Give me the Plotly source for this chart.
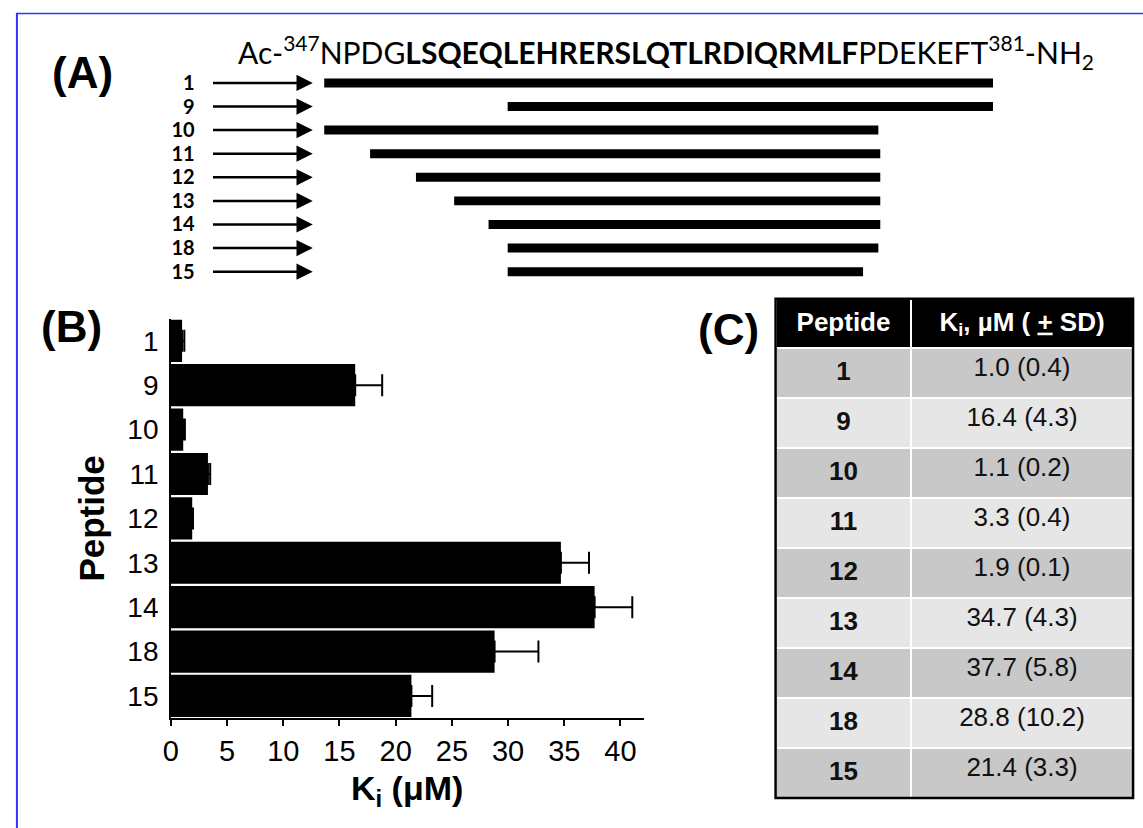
import plotly.graph_objects as go

# ---------------- data ----------------
peptides = ["1", "9", "10", "11", "12", "13", "14", "18", "15"]

# Panel A: sequence coverage (sequence position)
seq_start = [347.0, 356.6, 347.0, 349.4, 351.8, 353.8, 355.6, 356.6, 356.6]
seq_end = [382.0, 382.0, 376.0, 376.1, 376.1, 376.1, 376.1, 376.0, 375.2]

# Panel B / C: Ki values (uM), table SD, and plotted error bars
ki = [1.0, 16.4, 1.1, 3.3, 1.9, 34.7, 37.7, 28.8, 21.4]
sd = [0.4, 4.3, 0.2, 0.4, 0.1, 4.3, 5.8, 10.2, 3.3]
err_plot = [0.2, 2.4, 0.15, 0.2, 0.07, 2.5, 3.35, 3.9, 1.85]

x_ticks = [0, 5, 10, 15, 20, 25, 30, 35, 40]

W, H = 1143, 828
ARIAL = "Liberation Sans, Arial, sans-serif"
NARROW = "Liberation Sans Narrow, Arial Narrow, Liberation Sans, sans-serif"
CAL = "Lato, Calibri, sans-serif"

def px(x):
    return x / W

def py(y):
    return 1 - y / H

fig = go.Figure()

# ---------- Panel A ----------
fig.add_trace(go.Bar(
    orientation="h", y=peptides,
    x=[e - s for s, e in zip(seq_start, seq_end)], base=seq_start,
    width=0.38, marker=dict(color="black", line=dict(width=0)),
    xaxis="x2", yaxis="y2", showlegend=False, hoverinfo="skip",
))

ARROW_TAIL, ARROW_TIP = 341.1, 346.4
annotations = []
for i, p in enumerate(peptides):
    annotations.append(dict(
        xref="x2", yref="y2", axref="x2", ayref="y2",
        x=ARROW_TIP, y=i, ax=ARROW_TAIL, ay=i, text="",
        showarrow=True, arrowhead=2, arrowsize=1.3, arrowwidth=2.5,
        arrowcolor="black", standoff=0, startstandoff=0,
    ))

annotations.append(dict(
    xref="paper", yref="paper", x=px(663), y=py(51),
    xanchor="center", yanchor="middle", showarrow=False,
    text="Ac-<sup>347</sup>NPDG<b>LSQEQLEHRERSLQTLRDIQRMLF</b>PDEKEFT<sup>381</sup>-NH<sub>2</sub>",
    font=dict(family=CAL, size=30, color="black"),
))

# ---------- Panel B ----------
fig.add_trace(go.Bar(
    orientation="h", y=peptides, x=ki,
    marker=dict(color="black", line=dict(width=0)),
    error_x=dict(type="data", array=err_plot, arrayminus=[0] * len(ki),
                 symmetric=False, color="black", thickness=2, width=11),
    xaxis="x", yaxis="y", showlegend=False,
))

# ---------- Panel C ----------
row_fill = ["#c8c8c8" if i % 2 == 0 else "#e6e6e6" for i in range(len(peptides))]
fig.add_trace(go.Table(
    domain=dict(x=[px(773), px(1133)], y=[py(798), py(298)]),
    columnwidth=[137, 223],
    header=dict(
        values=["<b>Peptide</b>", "<b>K<sub>i</sub>, µM ( <u>+</u> SD)</b>"],
        fill_color="black", line=dict(color="white", width=2),
        font=dict(family=ARIAL, size=26, color="white"),
        align="center", height=47,
    ),
    cells=dict(
        values=[["<b>%s</b>" % p for p in peptides],
                ["%.1f (%.1f)" % (k, s) for k, s in zip(ki, sd)]],
        fill_color=[row_fill, row_fill], line=dict(color="white", width=2),
        font=dict(family=ARIAL, size=26, color="#111111"),
        align="center", height=50,
    ),
))

# panel labels
for lab, x, y in [("(A)", 75, 72), ("(B)", 64, 326), ("(C)", 726, 329)]:
    annotations.append(dict(
        xref="paper", yref="paper", x=px(x), y=py(y), xanchor="center",
        yanchor="middle", showarrow=False, text="<b>%s</b>" % lab,
        font=dict(family=ARIAL, size=44, color="black"),
    ))

shapes = [
    # table outer border
    dict(type="rect", xref="paper", yref="paper", x0=px(773), x1=px(1133),
         y0=py(798), y1=py(298), line=dict(color="black", width=2.5)),
    # blue frame edges
    dict(type="line", xref="paper", yref="paper", x0=px(9), x1=px(9),
         y0=py(12), y1=0, line=dict(color="#3333ff", width=2)),
    dict(type="line", xref="paper", yref="paper", x0=px(8), x1=1,
         y0=py(12.5), y1=py(12.5), line=dict(color="#3333ff", width=1.5)),
]

fig.update_layout(
    width=W, height=H, margin=dict(l=0, r=0, t=0, b=0),
    paper_bgcolor="white", plot_bgcolor="white",
    bargap=0.05, showlegend=False,
    annotations=annotations, shapes=shapes,
    xaxis=dict(
        domain=[px(164), px(640)], range=[0, 42.05], anchor="y",
        showline=True, linecolor="black", linewidth=2, mirror=False,
        ticks="outside", ticklen=6, tickwidth=2, tickcolor="black",
        tickvals=x_ticks, showgrid=False, zeroline=False,
        tickfont=dict(family=NARROW, size=29, color="black"),
        title=dict(text="<b>K<sub>i</sub> (μM)</b>", standoff=10,
                   font=dict(family=ARIAL, size=34, color="black")),
    ),
    yaxis=dict(
        domain=[py(718), py(318)], type="category", anchor="x",
        categoryorder="array", categoryarray=peptides, range=[8.5, -0.5],
        showline=True, linecolor="black", linewidth=1.5, ticks="",
        showgrid=False, zeroline=False,
        tickfont=dict(family=NARROW, size=28, color="black"),
        ticklabelstandoff=5,
        title=dict(text="<b>Peptide</b>", standoff=12,
                   font=dict(family=ARIAL, size=35, color="black")),
    ),
    xaxis2=dict(domain=[0, 1], range=[330.45, 389.85], anchor="y2",
                visible=False, fixedrange=True),
    yaxis2=dict(
        domain=[py(282.8), py(70.2)], type="category", anchor="free",
        position=px(188), categoryorder="array", categoryarray=peptides,
        range=[8.5, -0.5], showline=False, showgrid=False, zeroline=False,
        ticks="", tickvals=peptides, ticktext=["<b>%s</b>" % p for p in peptides],
        tickfont=dict(family=CAL, size=20, color="black"),
    ),
)

fig.write_html(
    "out.html",
    config={"displayModeBar": False},
    post_script="document.body.style.margin='0';document.body.style.overflow='hidden';",
)
